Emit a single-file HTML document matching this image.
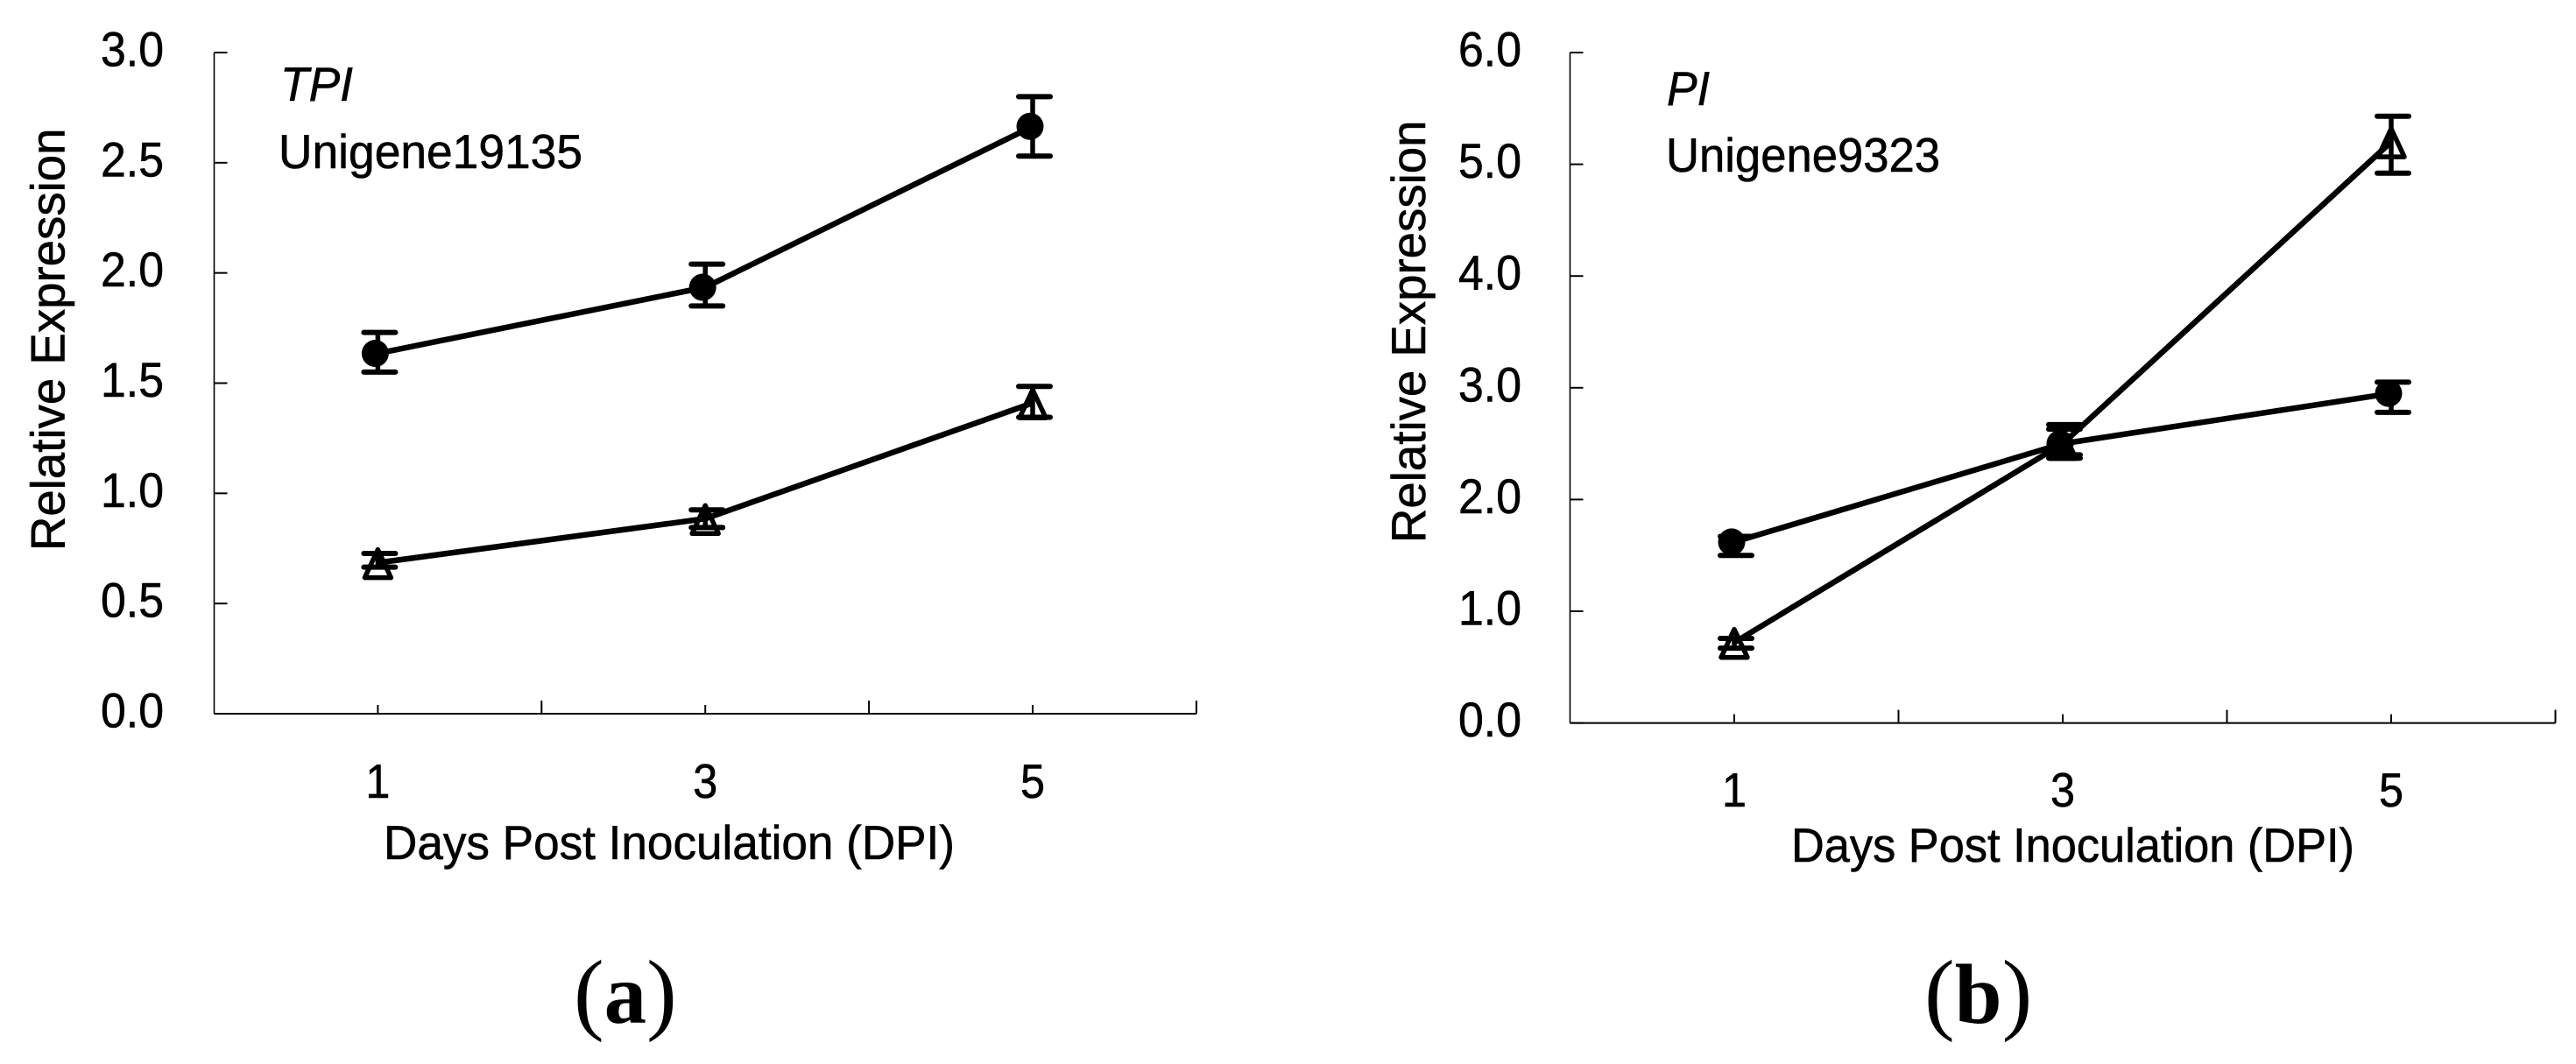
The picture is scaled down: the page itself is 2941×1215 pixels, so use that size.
<!DOCTYPE html>
<html lang="en">
<head>
<meta charset="utf-8">
<title>Relative expression of TPI and PI</title>
<style>
html,body{margin:0;padding:0;background:#fff;}
svg{display:block;}
text{font-family:"Liberation Sans",Arial,sans-serif;fill:#000;stroke:#000;stroke-width:.6px;}
text.panel-label{font-family:"Liberation Serif","Times New Roman",serif;stroke:none;font-size:104px;}
.panel-letter{font-weight:bold;font-size:97px;}
</style>
</head>
<body>
<svg id="figure" xmlns="http://www.w3.org/2000/svg" width="2941" height="1215" viewBox="0 0 2941 1215">
  <rect width="2941" height="1215" fill="#fff"/>
  <g id="panel-a"></g>
  <g id="panel-b"></g>

  <text x="320" y="115" font-size="54.5" font-style="italic" textLength="83" lengthAdjust="spacingAndGlyphs">TPI</text>
  <text x="318" y="192" font-size="54.5" textLength="347" lengthAdjust="spacingAndGlyphs">Unigene19135</text>
  <text transform="translate(73.5 629) rotate(-90)" font-size="54.6">Relative Expression</text>
  <text x="438" y="981" font-size="54.5" textLength="652" lengthAdjust="spacingAndGlyphs">Days Post Inoculation (DPI)</text>
  <text class="panel-label" x="655" y="1168">(<tspan class="panel-letter">a</tspan>)</text>

  <text x="1903" y="120" font-size="54.5" font-style="italic" textLength="49" lengthAdjust="spacingAndGlyphs">PI</text>
  <text x="1902" y="196" font-size="54.5" textLength="313" lengthAdjust="spacingAndGlyphs">Unigene9323</text>
  <text transform="translate(1627 620) rotate(-90)" font-size="54.6">Relative Expression</text>
  <text x="2045" y="984" font-size="54.5" textLength="643" lengthAdjust="spacingAndGlyphs">Days Post Inoculation (DPI)</text>
  <text class="panel-label" x="2197" y="1168">(<tspan class="panel-letter">b</tspan>)</text>
</svg>

<script>
// Shared category data
const days = [1, 3, 5];
const xTickLabels = ["1", "3", "5"];
const xMinorTicks = [0, 1, 2, 3, 4, 5, 6];

// Panel (a) TPI, Unigene19135
const aYTicks = [0, 0.5, 1, 1.5, 2, 2.5, 3];
const aYTickLabels = ["0.0", "0.5", "1.0", "1.5", "2.0", "2.5", "3.0"];
const aCircle = [1.635, 1.935, 2.665];
const aCircleHigh = [1.73, 2.04, 2.80];
const aCircleLow = [1.55, 1.85, 2.53];
const aTriangle = [0.685, 0.885, 1.41];
const aTriangleHigh = [0.727, 0.925, 1.485];
const aTriangleLow = [0.665, 0.845, 1.345];

// Panel (b) PI, Unigene9323
const bYTicks = [0, 1, 2, 3, 4, 5, 6];
const bYTickLabels = ["0.0", "1.0", "2.0", "3.0", "4.0", "5.0", "6.0"];
const bCircle = [1.62, 2.5, 2.95];
const bCircleHigh = [1.67, 2.67, 3.05];
const bCircleLow = [1.50, 2.40, 2.78];
const bTriangle = [0.72, 2.5, 5.2];
const bTriangleHigh = [0.757, 2.63, 5.43];
const bTriangleLow = [0.67, 2.37, 4.92];

const SVG_NS = "http://www.w3.org/2000/svg";

function make(parent, tag, props) {
  const el = document.createElementNS(SVG_NS, tag);
  for (const key in props) el.setAttribute(key, props[key]);
  parent.appendChild(el);
  return el;
}

function drawPanel(id, frame, yMax, yTicks, yTickLabels, series) {
  const root = document.getElementById(id);
  const xScale = function (d) { return frame.x0 + frame.step * d; };
  const yScale = function (v) { return frame.yBase - (frame.yBase - frame.yTop) * v / yMax; };

  // axes
  const yAxis = make(root, "line", { x1: frame.x0, x2: frame.x0, y1: frame.yTop, y2: frame.yBase, stroke: "#000", "stroke-width": 1.6 });
  
  
  const xAxis = make(root, "line", { x1: frame.x0, x2: xScale(6), y1: frame.yBase, y2: frame.yBase, stroke: "#000", "stroke-width": 2 });
  
  

  yTicks.forEach(function (v, i) {
    const y = yScale(v);
    const tick = make(root, "line", { x1: frame.x0, x2: frame.x0 + 15, y1: y, y2: y, stroke: "#000", "stroke-width": 2 });
    
    
    const label = make(root, "text", { x: frame.yLabelX, y: y + 15.5, "text-anchor": "end", "font-size": 55.5, textLength: 72, lengthAdjust: "spacingAndGlyphs" });
    label.textContent = yTickLabels[i];
    
    
  });

  xMinorTicks.forEach(function (d) {
    if (d === 0) return;
    const isCategory = days.indexOf(d) >= 0;
    const tick = make(root, "line", {
      x1: xScale(d), x2: xScale(d),
      y1: frame.yBase - (isCategory ? 10 : 15), y2: frame.yBase,
      stroke: "#000", "stroke-width": 2
    });
    
    
  });

  days.forEach(function (d, i) {
    const label = make(root, "text", { x: xScale(d), y: frame.xLabelY, "text-anchor": "middle", "font-size": 54.5, textLength: 28, lengthAdjust: "spacingAndGlyphs" });
    label.textContent = xTickLabels[i];
    
    
  });

  // series
  series.forEach(function (s) {
    const path = make(root, "polyline", {
      points: days.map(function (d, i) { return xScale(d) + "," + yScale(s.values[i]); }).join(" "),
      fill: "none", stroke: "#000", "stroke-width": 6.5, "stroke-linejoin": "round"
    });
    
    

    days.forEach(function (d, i) {
      const x = xScale(d);
      const yHigh = yScale(s.high[i]);
      const yLow = yScale(s.low[i]);
      const capStart = x - 16;
      const capEnd = x + 20;

      const stem = make(root, "line", { x1: x, x2: x, y1: yHigh, y2: yLow, stroke: "#000", "stroke-width": 5.5 });
      
      
      const capTop = make(root, "line", { x1: capStart, x2: capEnd, y1: yHigh, y2: yHigh, stroke: "#000", "stroke-width": 6, "stroke-linecap": "round" });
      
      
      const capBottom = make(root, "line", { x1: capStart, x2: capEnd, y1: yLow, y2: yLow, stroke: "#000", "stroke-width": 6, "stroke-linecap": "round" });
      
      

      const y = yScale(s.values[i]);
      if (s.kind === "circle") {
        const dot = make(root, "circle", { cx: x - 3, cy: y, r: 15.5, fill: "#000" });
        
        
      } else {
        const tri = make(root, "path", {
          d: "M" + x + " " + (y - 15) + "L" + (x + 15) + " " + (y + 17) + "L" + (x - 15) + " " + (y + 17) + "Z",
          fill: "none", stroke: "#000", "stroke-width": 5.5, "stroke-linejoin": "round"
        });
        
        
      }
    });
  });
}

drawPanel("panel-a",
  { x0: 244.5, step: 186.9, yTop: 60, yBase: 815, yLabelX: 187, xLabelY: 911 },
  3, aYTicks, aYTickLabels,
  [
    { name: "series-circle", kind: "circle", values: aCircle, high: aCircleHigh, low: aCircleLow },
    { name: "series-triangle", kind: "triangle", values: aTriangle, high: aTriangleHigh, low: aTriangleLow }
  ]);

drawPanel("panel-b",
  { x0: 1792.5, step: 187.5, yTop: 60, yBase: 825.6, yLabelX: 1737, xLabelY: 921 },
  6, bYTicks, bYTickLabels,
  [
    { name: "series-circle", kind: "circle", values: bCircle, high: bCircleHigh, low: bCircleLow },
    { name: "series-triangle", kind: "triangle", values: bTriangle, high: bTriangleHigh, low: bTriangleLow }
  ]);
</script>
</body>
</html>
